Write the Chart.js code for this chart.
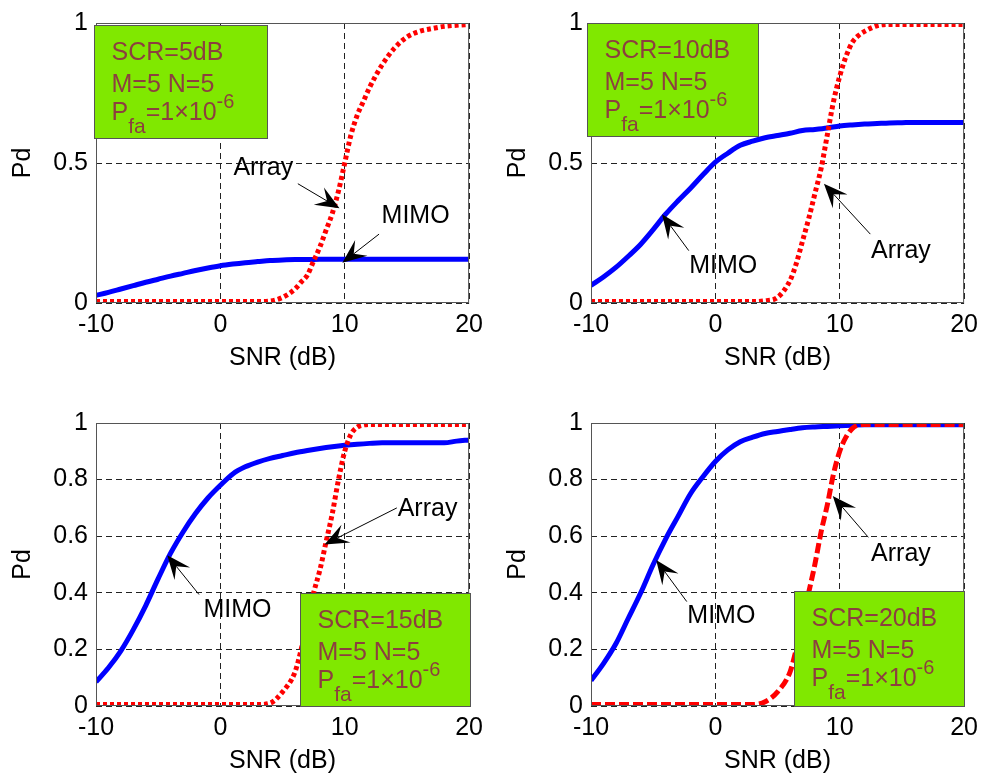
<!DOCTYPE html>
<html lang="en">
<head>
    <meta charset="UTF-8">
    <title>Pd vs SNR, MIMO and Array</title>
    <script src="https://cdn.jsdelivr.net/npm/chart.js"></script>
    <style>
        body { margin: 0; padding: 0; background: #fff; }
        .panel { position: absolute; }
    </style>
</head>
<body>

<div class="panel" style="left:0;top:0"><canvas id="c0" width="490" height="390"></canvas></div>
<div class="panel" style="left:495px;top:0"><canvas id="c1" width="490" height="390"></canvas></div>
<div class="panel" style="left:0;top:400px"><canvas id="c2" width="490" height="379"></canvas></div>
<div class="panel" style="left:495px;top:400px"><canvas id="c3" width="490" height="379"></canvas></div>

<script>
    // SNR grid (dB) for the MIMO curves and a finer one for the steep Array curves
    const snr = [-10,-9,-8,-7,-6,-5,-4,-3,-2,-1,0,1,2,3,4,5,6,7,8,9,10,11,12,13,14,15,16,17,18,19,20];
    const snrArr = [-10,-5,0,3,4,5,6,6.5,7,7.5,8,8.5,9,9.5,10,10.5,11,11.5,12,13,14,15,16,17,18,19,20];

    // SCR = 5 dB
    const mimo5 = [0.027,0.038,0.05,0.062,0.074,0.085,0.096,0.106,0.116,0.125,
                   0.133,0.139,0.144,0.148,0.152,0.154,0.155,0.155,0.156,0.156,0.156,0.156,0.156,0.156,0.156,0.156,0.156,0.156,0.156,0.156,0.156];
    const array5 = [0.005,0.005,0.005,0.005,0.007,0.02,0.05,0.075,0.1,0.15,0.2,0.26,0.32,0.4,0.5,0.6,0.67,0.72,0.77,0.85,0.91,0.95,0.97,0.98,0.988,0.992,0.995];

    // SCR = 10 dB
    const mimo10 = [0.063,0.093,0.127,0.167,0.21,0.262,0.317,0.365,0.41,0.458,
                    0.503,0.535,0.563,0.578,0.59,0.598,0.606,0.616,0.62,0.625,0.632,0.636,0.639,0.641,0.643,0.644,0.645,0.645,0.645,0.645,0.645];
    const array10 = [0.005,0.005,0.005,0.005,0.008,0.02,0.08,0.14,0.22,0.3,0.39,0.48,0.6,0.72,0.81,0.88,0.93,0.955,0.97,0.99,0.995,0.995,0.995,0.995,0.995,0.995,0.995];

    // SCR = 15 dB
    const mimo15 = [0.085,0.135,0.195,0.27,0.355,0.45,0.54,0.615,0.68,0.735,
                    0.78,0.82,0.845,0.862,0.875,0.885,0.895,0.903,0.91,0.916,0.921,0.925,0.928,0.93,0.93,0.93,0.93,0.93,0.93,0.936,0.94];
    const array15 = [0.005,0.005,0.005,0.005,0.01,0.05,0.12,0.2,0.3,0.4,0.48,0.58,0.68,0.8,0.9,0.96,0.985,0.993,0.995,0.995,0.995,0.995,0.995,0.995,0.995,0.995,0.995];

    // SCR = 20 dB
    const mimo20 = [0.09,0.15,0.22,0.31,0.4,0.5,0.59,0.67,0.75,0.81,
                    0.864,0.905,0.934,0.95,0.963,0.97,0.977,0.983,0.986,0.988,0.99,0.992,0.994,0.994,0.994,0.994,0.994,0.994,0.994,0.994,0.994];
    const array20 = [0.005,0.005,0.005,0.005,0.015,0.05,0.12,0.2,0.3,0.4,0.5,0.615,0.71,0.82,0.9,0.95,0.98,0.993,0.995,0.995,0.995,0.995,0.995,0.995,0.995,0.995,0.995];

    const xTicks = [-10, 0, 10, 20];
    const infoLines = ['M=5 N=5'];

    const FONT = '"Liberation Sans", Arial, Helvetica, sans-serif';
    const FS = 25;

    // one entry per subplot; note/box positions are in data units
    const panels = [
        { id: 'c0', plotBottom: 303, yStep: 0.5, mimo: mimo5, arr: array5, dash: [4, 3], scr: 'SCR=5dB',
          box: { x0: -10.15, x1: 3.76, y0: 0.993, y1: 0.588 },
          notes: [
            { text: 'Array', tx: 3.45, ty: 0.482, from: [6.23, 0.426], to: [9.58, 0.338] },
            { text: 'MIMO', tx: 15.7, ty: 0.31, from: [12.76, 0.246], to: [9.81, 0.144] }
          ] },
        { id: 'c1', plotBottom: 303, yStep: 0.5, mimo: mimo10, arr: array10, dash: [4, 3], scr: 'SCR=10dB',
          box: { x0: -10.3, x1: 3.41, y0: 1.0, y1: 0.595 },
          notes: [
            { text: 'MIMO', tx: 0.63, ty: 0.13, from: [-2.14, 0.187], to: [-4.29, 0.317] },
            { text: 'Array', tx: 14.92, ty: 0.187, from: [12.46, 0.246], to: [8.73, 0.426] }
          ] },
        { id: 'c2', plotBottom: 306, yStep: 0.2, mimo: mimo15, arr: array15, dash: [4, 3], scr: 'SCR=15dB',
          box: { x0: 6.39, x1: 20.08, y0: 0.4, y1: 0 },
          notes: [
            { text: 'Array', tx: 16.66, ty: 0.697, from: [14.19, 0.7], to: [8.38, 0.571] },
            { text: 'MIMO', tx: 1.38, ty: 0.338, from: [-1.72, 0.394], to: [-4.27, 0.533] }
          ] },
        { id: 'c3', plotBottom: 306, yStep: 0.2, mimo: mimo20, arr: array20, dash: [10, 4], scr: 'SCR=20dB',
          box: { x0: 6.35, x1: 20.0, y0: 0.408, y1: 0 },
          notes: [
            { text: 'MIMO', tx: 0.48, ty: 0.317, from: [-2.3, 0.369], to: [-4.76, 0.516] },
            { text: 'Array', tx: 14.92, ty: 0.537, from: [12.3, 0.596], to: [9.44, 0.742] }
          ] }
    ];

    // draws the axes box, arrows with labels and the green info box
    const notesPlugin = {
        id: 'notes',
        afterDatasetsDraw(chart, args, opts) {
            const { ctx, chartArea: a, scales: { x, y } } = chart;
            ctx.save();
            ctx.strokeStyle = '#555';
            ctx.lineWidth = 1;
            ctx.setLineDash([]);
            ctx.strokeRect(a.left + 0.5, a.top + 0.5, a.right - a.left - 1, a.bottom - a.top - 1);

            // arrows
            ctx.font = FS + 'px ' + FONT;
            ctx.fillStyle = '#000';
            ctx.textAlign = 'center';
            ctx.textBaseline = 'middle';
            (opts.notes || []).forEach(n => {
                const x0 = x.getPixelForValue(n.from[0]), y0 = y.getPixelForValue(n.from[1]);
                const x1 = x.getPixelForValue(n.to[0]), y1 = y.getPixelForValue(n.to[1]);
                const len = Math.hypot(x1 - x0, y1 - y0);
                const ux = (x1 - x0) / len, uy = (y1 - y0) / len;
                const nx = -uy, ny = ux;
                const L = 24, W = 10;
                ctx.strokeStyle = '#000';
                ctx.lineWidth = 1;
                ctx.beginPath();
                ctx.moveTo(x0, y0);
                ctx.lineTo(x1 - ux * L * 0.6, y1 - uy * L * 0.6);
                ctx.stroke();
                ctx.beginPath();
                ctx.moveTo(x1, y1);
                ctx.lineTo(x1 - ux * L + nx * W, y1 - uy * L + ny * W);
                ctx.lineTo(x1 - ux * L * 0.6, y1 - uy * L * 0.6);
                ctx.lineTo(x1 - ux * L - nx * W, y1 - uy * L - ny * W);
                ctx.closePath();
                ctx.fill();
                ctx.fillText(n.text, x.getPixelForValue(n.tx), y.getPixelForValue(n.ty));
            });

            // info box
            const b = opts.box;
            if (b) {
                const bl = Math.round(x.getPixelForValue(b.x0)) + 0.5, br = Math.round(x.getPixelForValue(b.x1)) + 0.5;
                const bt = Math.round(y.getPixelForValue(b.y0)) + 0.5, bb = Math.round(y.getPixelForValue(b.y1)) + 0.5;
                ctx.fillStyle = '#80e800';
                ctx.fillRect(bl, bt, br - bl, bb - bt);
                ctx.strokeStyle = '#555';
                ctx.strokeRect(bl, bt, br - bl, bb - bt);

                const tx = bl + 17;
                ctx.fillStyle = '#8c3f3f';
                ctx.textAlign = 'left';
                ctx.textBaseline = 'alphabetic';
                ctx.font = FS + 'px ' + FONT;
                ctx.fillText(opts.scr, tx, bt + 34);
                ctx.fillText(infoLines[0], tx, bt + 66);
                // P_fa = 1x10^-6
                let cx = tx;
                const base = bt + 94;
                ctx.fillText('P', cx, base);
                cx += ctx.measureText('P').width;
                ctx.font = '21px ' + FONT;
                ctx.fillText('fa', cx, base + 13);
                cx += ctx.measureText('fa').width;
                ctx.font = FS + 'px ' + FONT;
                ctx.fillText('=1\u00d710', cx, base);
                cx += ctx.measureText('=1\u00d710').width;
                ctx.font = '20px ' + FONT;
                ctx.fillText('-6', cx, base - 12);
            }
            ctx.restore();
        }
    };

    panels.forEach(p => {
        const canvas = document.getElementById(p.id);
        const H = canvas.height;
        const xAxisH = 70;
        new Chart(canvas.getContext('2d'), {
            type: 'line',
            data: {
                datasets: [
                    {
                        label: 'Array',
                        data: snrArr.map((s, i) => ({ x: s, y: p.arr[i] })),
                        borderColor: '#ff0000',
                        borderWidth: 5,
                        borderDash: p.dash,
                        pointRadius: 0,
                        fill: false,
                        cubicInterpolationMode: 'monotone'
                    },
                    {
                        label: 'MIMO',
                        data: snr.map((s, i) => ({ x: s, y: p.mimo[i] })),
                        borderColor: '#0000ff',
                        borderWidth: 5,
                        pointRadius: 0,
                        fill: false,
                        cubicInterpolationMode: 'monotone'
                    }
                ]
            },
            options: {
                responsive: false,
                animation: false,
                devicePixelRatio: 1,
                layout: { padding: { top: 19, right: 17, left: 0, bottom: H - xAxisH - p.plotBottom } },
                plugins: {
                    legend: { display: false },
                    tooltip: { enabled: false },
                    notes: { box: p.box, scr: p.scr, notes: p.notes }
                },
                scales: {
                    x: {
                        type: 'linear',
                        min: -10,
                        max: 20,
                        afterBuildTicks: s => { s.ticks = xTicks.map(v => ({ value: v })); },
                        afterFit: s => { s.height = xAxisH; },
                        ticks: { color: '#000', font: { family: FONT, size: FS }, padding: 7, maxRotation: 0 },
                        grid: { color: '#222', lineWidth: 1, drawTicks: false },
                        border: { display: false, dash: [6, 4] },
                        title: { display: true, text: 'SNR (dB)', color: '#000', font: { family: FONT, size: FS }, padding: { top: 4, bottom: 0 } }
                    },
                    y: {
                        min: 0,
                        max: 1,
                        afterFit: s => { s.width = 96; },
                        ticks: {
                            stepSize: p.yStep,
                            color: '#000',
                            font: { family: FONT, size: FS },
                            padding: 8,
                            callback: v => String(+v.toFixed(1))
                        },
                        grid: { color: '#222', lineWidth: 1, drawTicks: false },
                        border: { display: false, dash: [6, 4] },
                        title: { display: true, text: 'Pd', color: '#000', font: { family: FONT, size: FS }, padding: { top: 8, bottom: 0 } }
                    }
                }
            },
            plugins: [notesPlugin]
        });
    });
</script>

</body>
</html>
